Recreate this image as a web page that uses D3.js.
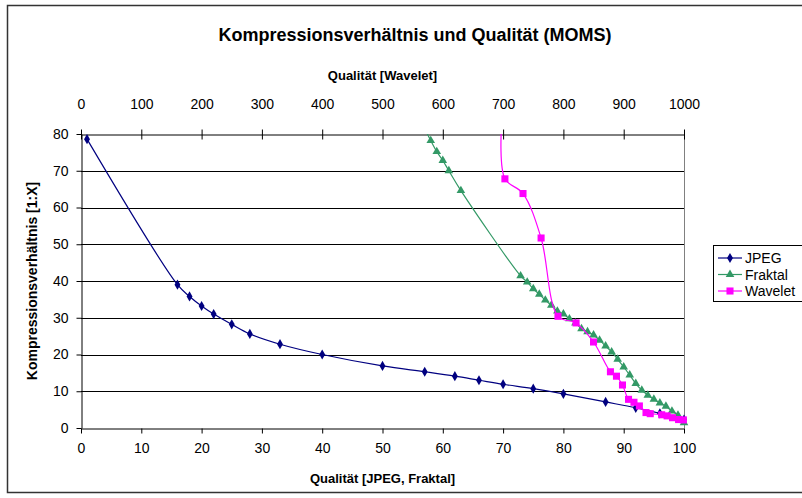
<!DOCTYPE html>
<html>
<head>
<meta charset="utf-8">
<script src="https://cdn.jsdelivr.net/npm/d3@7"></script>
<style>
    body { margin: 0; background: white; }
    text { font-family: "Liberation Sans", Arial, sans-serif; }
</style>
</head>
<body>
<div id="canvas"></div>
<script>
"use strict"

/* Data: quality (x) and compression ratio (y) */
let jpegQuality = [1, 16, 18, 20, 22, 25, 28, 33, 40, 50, 57, 62, 66, 70, 75, 80, 87, 92, 96, 100];
let jpegRatio = [78.6, 39.0, 35.8, 33.2, 31.0, 28.2, 25.6, 22.8, 20.0, 16.9, 15.3, 14.1, 13.0, 11.9, 10.7, 9.3, 7.1, 5.5, 4.0, 2.3];

let fraktalQuality = [57.2, 58, 59, 60, 61, 63, 72.9, 74, 75, 76, 77, 78, 79, 80, 81, 82, 83, 84, 85, 86, 87, 88, 89, 90, 91, 92, 93, 94, 95, 96, 97, 98, 99, 100];
let fraktalRatio = [80.8, 78.2, 75.2, 72.8, 70.0, 64.6, 41.4, 39.7, 37.9, 36.4, 34.8, 33.4, 31.8, 31.0, 29.7, 28.6, 27.0, 26.2, 25.3, 23.9, 22.3, 20.7, 18.7, 16.6, 14.4, 12.1, 10.3, 8.9, 7.8, 6.8, 5.9, 4.6, 3.5, 1.4];

let waveletQuality = [697, 703, 733, 763, 791, 821, 850, 878, 888, 898, 908, 917, 926, 937, 944, 963, 972, 981, 991, 999];
let waveletRatio = [81.0, 67.8, 63.8, 51.7, 30.4, 28.6, 23.4, 15.3, 14.1, 11.7, 7.8, 7.0, 6.0, 4.2, 3.9, 3.6, 3.3, 2.8, 2.3, 2.2];

let bottomTicks = [0, 10, 20, 30, 40, 50, 60, 70, 80, 90, 100];
let topTicks = [0, 100, 200, 300, 400, 500, 600, 700, 800, 900, 1000];
let yTicks = [0, 10, 20, 30, 40, 50, 60, 70, 80];
let seriesNames = ["JPEG", "Fraktal", "Wavelet"];

/* Configuration variables: drawing */
let svgWidth = 802;
let svgHeight = 498;
let plotLeft = 81;
let plotRight = 684;
let plotTop = 134;
let plotBottom = 428;

let svg = d3.select("#canvas")
    .append("svg")
    .attr("width", svgWidth)
    .attr("height", svgHeight);

/* Chart area border */
svg.append("rect")
    .attr("x", 7.5)
    .attr("y", 5.5)
    .attr("width", 820)
    .attr("height", 487)
    .attr("fill", "white")
    .attr("stroke", "#333")
    .attr("stroke-width", 1.5);

/* Scales */
let xScale = d3.scaleLinear().domain([0, 100]).range([plotLeft, plotRight]);
let xTopScale = d3.scaleLinear().domain([0, 1000]).range([plotLeft, plotRight]);
let yScale = d3.scaleLinear().domain([0, 80]).range([plotBottom, plotTop]);

/* Horizontal gridlines */
svg.append("g")
    .selectAll("line")
    .data(yTicks.slice(1, -1))
    .join("line")
    .attr("x1", plotLeft)
    .attr("x2", plotRight)
    .attr("y1", d => Math.round(yScale(d)) + 0.5)
    .attr("y2", d => Math.round(yScale(d)) + 0.5)
    .attr("stroke", "black");

/* Plot area right border (grey) */
svg.append("line")
    .attr("x1", plotRight + 0.5)
    .attr("x2", plotRight + 0.5)
    .attr("y1", plotTop)
    .attr("y2", plotBottom)
    .attr("stroke", "#808080");

/* Axes */
let xAxis = svg.append("g")
    .attr("transform", "translate(0," + (plotBottom + 0.5) + ")")
    .call(d3.axisBottom(xScale).tickValues(bottomTicks).tickSize(5).tickSizeOuter(0).tickPadding(10));

let xTopAxis = svg.append("g")
    .attr("transform", "translate(0," + (plotTop + 0.5) + ")")
    .call(d3.axisTop(xTopScale).tickValues(topTicks).tickFormat(d3.format("d")).tickSize(5).tickSizeOuter(0).tickPadding(21));
/* top ticks cross the axis line */
xTopAxis.selectAll(".tick line").attr("y2", 5).attr("y1", -5);

let yAxis = svg.append("g")
    .attr("transform", "translate(" + (plotLeft + 0.5) + ",0)")
    .call(d3.axisLeft(yScale).tickValues(yTicks).tickSize(5).tickSizeOuter(0).tickPadding(8));

svg.selectAll(".domain").attr("stroke", "black");
svg.selectAll(".tick line").attr("stroke", "black");
svg.selectAll(".tick text")
    .attr("font-family", "Liberation Sans, Arial, sans-serif")
    .attr("font-size", 14)
    .attr("fill", "black");

/* Clip series lines to the plot area */
svg.append("clipPath")
    .attr("id", "plotClip")
    .append("rect")
    .attr("x", plotLeft)
    .attr("y", plotTop)
    .attr("width", plotRight - plotLeft + 1)
    .attr("height", plotBottom - plotTop + 1);

let series = [
    { name: "JPEG", xs: jpegQuality, ys: jpegRatio, sx: xScale, color: "#000080", shape: d3.symbolDiamond, size: 30 },
    { name: "Fraktal", xs: fraktalQuality, ys: fraktalRatio, sx: xScale, color: "#339966", shape: d3.symbolTriangle, size: 32 },
    { name: "Wavelet", xs: waveletQuality, ys: waveletRatio, sx: xTopScale, color: "#FF00FF", shape: d3.symbolSquare, size: 50 }
];

series.forEach(function (s) {
    let points = s.xs.map((x, i) => [s.sx(x), yScale(s.ys[i]), s.ys[i]]);
    let line = d3.line().curve(d3.curveCatmullRom.alpha(0.5));
    svg.append("path")
        .attr("clip-path", "url(#plotClip)")
        .attr("d", line(points))
        .attr("fill", "none")
        .attr("stroke", s.color)
        .attr("stroke-width", 1.2);
    /* markers only for points inside the value range */
    svg.append("g")
        .selectAll("path")
        .data(points.filter(d => d[2] <= 80))
        .join("path")
        .attr("transform", d => "translate(" + d[0] + "," + d[1] + ")")
        .attr("d", d3.symbol().type(s.shape).size(s.size))
        .attr("fill", s.color);
});

/* Title */
svg.append("text")
    .attr("x", 415)
    .attr("y", 41)
    .attr("text-anchor", "middle")
    .attr("font-size", 18)
    .attr("font-weight", "bold")
    .text("Kompressionsverhältnis und Qualität (MOMS)");

/* Axis titles */
svg.append("text")
    .attr("x", (plotLeft + plotRight) / 2)
    .attr("y", 80)
    .attr("text-anchor", "middle")
    .attr("font-size", 13)
    .attr("font-weight", "bold")
    .text("Qualität [Wavelet]");

svg.append("text")
    .attr("x", (plotLeft + plotRight) / 2)
    .attr("y", 483)
    .attr("text-anchor", "middle")
    .attr("font-size", 13)
    .attr("font-weight", "bold")
    .text("Qualität [JPEG, Fraktal]");

svg.append("text")
    .attr("transform", "translate(37," + ((plotTop + plotBottom) / 2) + ") rotate(-90)")
    .attr("text-anchor", "middle")
    .attr("font-size", 14)
    .attr("font-weight", "bold")
    .text("Kompressionsverhältnis [1:X]");

/* Legend */
svg.append("rect")
    .attr("x", 713.5)
    .attr("y", 245.5)
    .attr("width", 120)
    .attr("height", 56)
    .attr("fill", "white")
    .attr("stroke", "black");

for (let i = 0; i < 3; i++) {
    let ly = 258 + i * 16.5;
    svg.append("line")
        .attr("x1", 718)
        .attr("x2", 742)
        .attr("y1", ly)
        .attr("y2", ly)
        .attr("stroke", series[i].color)
        .attr("stroke-width", 1.2);
    svg.append("path")
        .attr("transform", "translate(730," + ly + ")")
        .attr("d", d3.symbol().type(series[i].shape).size(series[i].size))
        .attr("fill", series[i].color);
    svg.append("text")
        .attr("x", 745)
        .attr("y", ly)
        .attr("dominant-baseline", "central")
        .attr("font-size", 14)
        .text(seriesNames[i]);
}
</script>
</body>
</html>
